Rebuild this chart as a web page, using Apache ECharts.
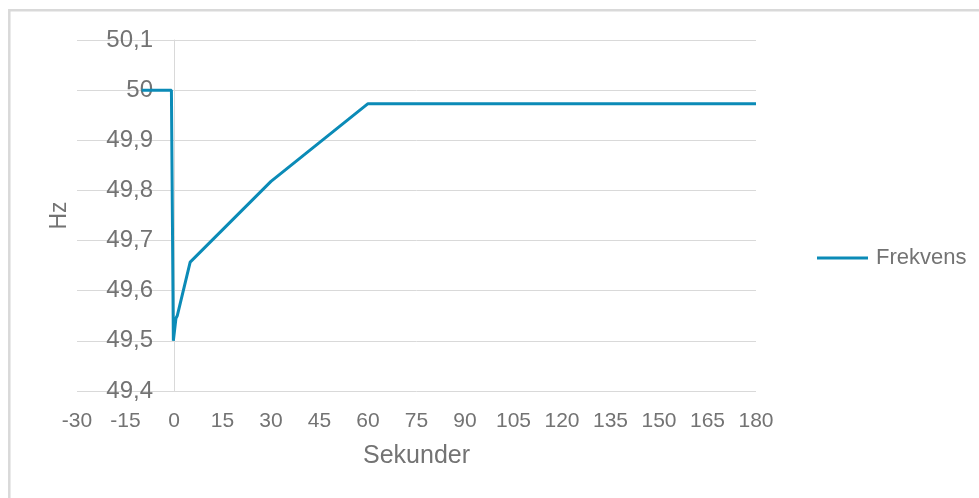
<!DOCTYPE html>
<html>
<head>
<meta charset="utf-8">
<script src="https://cdn.jsdelivr.net/npm/echarts@6/dist/echarts.min.js"></script>
<style>
  html, body { margin: 0; padding: 0; background: #fff; }
  #chart { width: 979px; height: 498px; }
</style>
</head>
<body>
<div id="chart"></div>
<script>
// Frequency trace around a disturbance at t = 0
const seriesName = 'Frekvens';
const timeSec = [-10, -0.8, -0.2, 0.6, 1, 5, 30, 60, 180];
const freqHz = [50, 50, 49.5, 49.545, 49.55, 49.657, 49.818, 49.973, 49.973];

const xTitle = 'Sekunder';
const yTitle = 'Hz';
const xRange = [-30, 180, 15];
const yRange = [49.4, 50.1, 0.1];

const lineColor = '#0b8bb7';
const textColor = '#737373';
const gridColor = '#d9d9d9';
const fontFamily = '"Liberation Sans", Arial, sans-serif';

const gridLeft = 77, gridRight = 223;
const plotWidth = 979 - gridLeft - gridRight;
// vertical axis sits where t = 0
const zeroOffset = -plotWidth * (0 - xRange[0]) / (xRange[1] - xRange[0]);

const points = timeSec.map((t, i) => [t, freqHz[i]]);

function commaNum(v) {
  const r = Math.round(v * 10) / 10;
  return (Number.isInteger(r) ? String(r) : r.toFixed(1)).replace('.', ',');
}

const chart = echarts.init(document.getElementById('chart'));
chart.setOption({
  animation: false,
  backgroundColor: '#ffffff',
  textStyle: { fontFamily: fontFamily },
  graphic: [{
    type: 'rect',
    shape: { x: 9.3, y: 10.3, width: 1200, height: 800 },
    style: { fill: 'none', stroke: gridColor, lineWidth: 2.5 },
    silent: true,
    z: -10
  }],
  grid: { left: gridLeft, right: gridRight, top: 40, bottom: 107, outerBoundsMode: 'none', containLabel: false },
  legend: {
    data: [seriesName],
    left: 817,
    top: 247,
    padding: 0,
    icon: 'rect',
    itemWidth: 51,
    itemHeight: 3,
    textStyle: { color: textColor, fontSize: 22, fontFamily: fontFamily, padding: [0, 0, 0, 3] }
  },
  xAxis: {
    type: 'value',
    min: xRange[0],
    max: xRange[1],
    interval: xRange[2],
    name: xTitle,
    nameLocation: 'middle',
    nameGap: 53,
    nameTextStyle: { color: textColor, fontSize: 25, fontFamily: fontFamily },
    axisLine: { show: false },
    axisTick: { show: false },
    splitLine: { show: false },
    axisLabel: { color: textColor, fontSize: 21, margin: 20, fontFamily: fontFamily }
  },
  yAxis: {
    type: 'value',
    min: yRange[0],
    max: yRange[1],
    interval: yRange[2],
    offset: zeroOffset,
    name: yTitle,
    nameLocation: 'middle',
    nameGap: 103,
    nameRotate: 90,
    nameTextStyle: { color: textColor, fontSize: 23, fontFamily: fontFamily },
    axisLine: { show: true, onZero: false, lineStyle: { color: gridColor, width: 1 } },
    axisTick: { show: false },
    splitLine: { show: true, lineStyle: { color: gridColor, width: 1 } },
    axisLabel: { color: textColor, fontSize: 24, margin: 21, fontFamily: fontFamily, formatter: commaNum }
  },
  series: [{
    name: seriesName,
    type: 'line',
    data: points,
    showSymbol: false,
    symbol: 'none',
    lineStyle: { color: lineColor, width: 3 },
    itemStyle: { color: lineColor }
  }]
});
</script>
</body>
</html>
